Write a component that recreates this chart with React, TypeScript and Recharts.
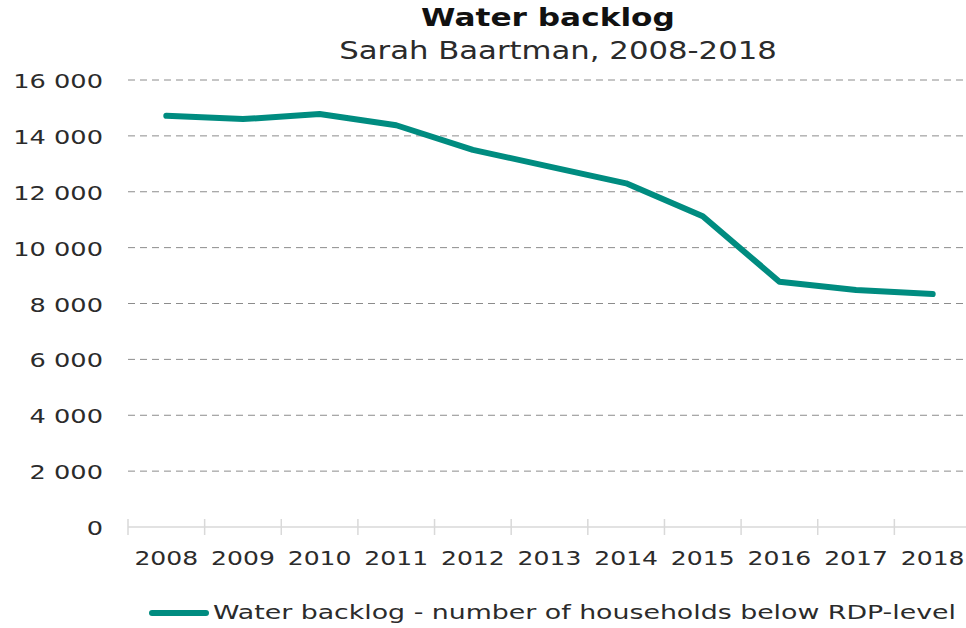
import { LineChart, Line, XAxis, YAxis, CartesianGrid, Legend } from "recharts";

const years = ["2008", "2009", "2010", "2011", "2012", "2013", "2014", "2015", "2016", "2017", "2018"];
const backlog = [14720, 14600, 14780, 14380, 13500, 12900, 12300, 11120, 8780, 8480, 8340];
const yTicks = [0, 2000, 4000, 6000, 8000, 10000, 12000, 14000, 16000];
const yMax = 16000;

const seriesName = "Water backlog - number of households below RDP-level";
const teal = "#008C80";
const textColor = "#2b2b2b";
const font = "'DejaVu Sans', Verdana, sans-serif";

const data = years.map((year, i) => ({ year, backlog: backlog[i] }));

const fmt = (v: number) => String(v).replace(/\B(?=(\d{3})+(?!\d))/g, " ");

const XTick = (props: any) => {
  const { x, y, payload, index } = props;
  const off = payload.offset ?? 38.3;
  return (
    <g>
      <line x1={x - off} x2={x - off} y1={y - 8} y2={y + 8} stroke="#d9d9d9" strokeWidth={1.5} />
      {index === years.length - 1 && (
        <line x1={x + off} x2={x + off} y1={y - 8} y2={y + 8} stroke="#d9d9d9" strokeWidth={1.5} />
      )}
      <text
        transform={`translate(${x},${y + 38}) scale(1.32,1)`}
        textAnchor="middle"
        fontFamily={font}
        fontSize={19}
        fill={textColor}
      >
        {payload.value}
      </text>
    </g>
  );
};

const YTick = (props: any) => {
  const { x, y, payload } = props;
  return (
    <text
      transform={`translate(${x},${y + 8}) scale(1.35,1)`}
      textAnchor="end"
      fontFamily={font}
      fontSize={19}
      fill={textColor}
    >
      {fmt(payload.value)}
    </text>
  );
};

const renderLegend = () => (
  <svg width={966} height={30} style={{ display: "block" }}>
    <line x1={152} x2={206} y1={17} y2={17} stroke={teal} strokeWidth={6} strokeLinecap="round" />
    <text
      transform="translate(213,23) scale(1.34,1)"
      fontFamily={font}
      fontSize={20}
      fill={textColor}
    >
      {seriesName}
    </text>
  </svg>
);

export default function App() {
  return (
    <div
      style={{
        position: "absolute",
        left: 0,
        top: 0,
        width: 966,
        height: 628,
        overflow: "hidden",
        background: "#fff",
      }}
    >
      <div
        style={{
          position: "absolute",
          left: 548,
          top: 4,
          transform: "translateX(-50%) scaleX(1.3)",
          fontFamily: font,
          fontWeight: "bold",
          fontSize: 24,
          color: "#111",
          whiteSpace: "nowrap",
        }}
      >
        Water backlog
      </div>
      <div
        style={{
          position: "absolute",
          left: 558,
          top: 37,
          transform: "translateX(-50%) scaleX(1.28)",
          fontFamily: font,
          fontSize: 24,
          color: textColor,
          whiteSpace: "nowrap",
        }}
      >
        Sarah Baartman, 2008-2018
      </div>
      <LineChart
        width={990}
        height={628}
        data={data}
        margin={{ top: 80, right: 19, left: 0, bottom: 2 }}
      >
        <CartesianGrid
          vertical={false}
          stroke="#8c8c8c"
          strokeDasharray="7 5"
          horizontalCoordinatesGenerator={({ offset }: any) =>
            yTicks
              .filter((t) => t > 0)
              .map((t) => offset.top + offset.height * (1 - t / yMax))
          }
        />
        <XAxis
          dataKey="year"
          scale="band"
          height={69}
          tickLine={false}
          tickSize={0}
          tickMargin={0}
          axisLine={{ stroke: "#d9d9d9", strokeWidth: 1.5 }}
          tick={<XTick />}
          interval={0}
        />
        <YAxis
          width={128}
          domain={[0, yMax]}
          ticks={yTicks}
          axisLine={false}
          tickLine={false}
          tickSize={0}
          tickMargin={25}
          tick={<YTick />}
          interval={0}
        />
        <Legend verticalAlign="bottom" content={renderLegend} wrapperStyle={{ left: 0, width: 966 }} />
        <Line
          type="linear"
          dataKey="backlog"
          name={seriesName}
          stroke={teal}
          strokeWidth={6}
          strokeLinecap="round"
          strokeLinejoin="round"
          dot={false}
          activeDot={false}
          isAnimationActive={false}
        />
      </LineChart>
    </div>
  );
}
